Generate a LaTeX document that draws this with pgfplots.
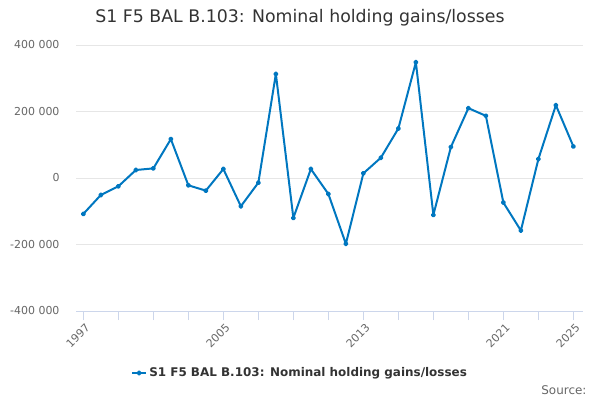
\documentclass[border=0pt]{standalone}
\usepackage{fontspec}
\setmainfont{DejaVu Sans}
\usepackage{pgfplots}
\pgfplotsset{compat=1.18}
\definecolor{lineblue}{HTML}{0077C0}
\definecolor{gridgray}{HTML}{E6E6E6}
\definecolor{axisblue}{HTML}{CCD6EB}
\definecolor{labgray}{HTML}{666666}
\definecolor{titlegray}{HTML}{333333}
\begin{document}
\begin{tikzpicture}[x=1bp,y=1bp]
\useasboundingbox (0,0) rectangle (600,400);
\node[text=titlegray, font=\fontsize{17.4}{20}\selectfont] at (300,382) {S1 F5 BAL B.103: Nominal holding gains/losses};
\node[anchor=east, text=labgray, font=\fontsize{12}{14}\selectfont] at (590,10) {Source:};
\begin{axis}[
  at={(76bp,89bp)}, anchor=south west,
  scale only axis, width=507bp, height=266bp,
  xmin=1996.58, xmax=2025.55,
  ymin=-400000, ymax=400000,
  scaled y ticks=false, scaled x ticks=false,
  ytick={-400000,-200000,0,200000,400000},
  yticklabels={-400 000,-200 000,0,200 000,400 000},
  xtick={1997,2005,2013,2021,2025},
  xticklabels={1997,2005,2013,2021,2025},
  minor xtick={1999,2001,2003,2007,2009,2011,2015,2017,2019,2023},
  ymajorgrids, grid style={gridgray, line width=0.8pt},
  axis x line*=bottom, axis y line*=left,
  x axis line style={axisblue, line width=0.8pt, -},
  y axis line style={draw=none},
  xtick style={axisblue, line width=0.8pt},
  minor x tick style={axisblue, line width=0.8pt},
  xtick align=outside, major tick length=9bp, minor tick length=9bp,
  ytick style={draw=none},
  x tick label style={rotate=45, anchor=north east, text=labgray, font=\fontsize{11}{13}\selectfont, inner sep=1pt, yshift=-2bp},
  y tick label style={text=labgray, font=\fontsize{11}{13}\selectfont, xshift=-13bp},
  legend style={at={(0.4418,-0.233)}, anchor=center, draw=none, fill=none, font=\bfseries\fontsize{12}{14}\selectfont, text=titlegray},
  legend image code/.code={\draw[lineblue, line width=2pt] (0cm,0cm) -- (0.5cm,0cm); \fill[lineblue] (0.25cm,0cm) circle (1.6pt);},
]
\addplot[lineblue, line width=2pt, line join=round, mark=*, mark size=1.6pt, mark options={solid}] coordinates {
(1997,-108000) (1998,-51000) (1999,-25000) (2000,24000) (2001,29000)
(2002,117000) (2003,-22000) (2004,-38000) (2005,27000) (2006,-85000)
(2007,-14000) (2008,313000) (2009,-120000) (2010,27000) (2011,-48000)
(2012,-198000) (2013,14000) (2014,61000) (2015,149000) (2016,348000)
(2017,-111000) (2018,93000) (2019,210000) (2020,187000) (2021,-74000)
(2022,-158000) (2023,57000) (2024,219000) (2025,95000)
};
\addlegendentry{S1 F5 BAL B.103: Nominal holding gains/losses}
\end{axis}
\end{tikzpicture}
\end{document}
